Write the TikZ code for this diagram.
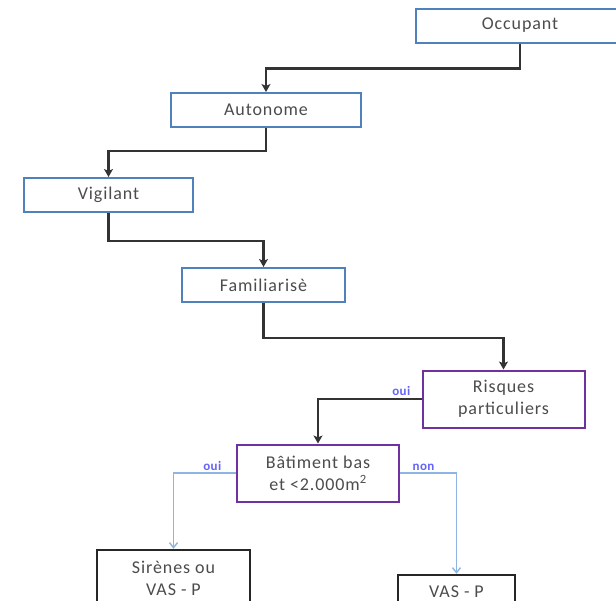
\documentclass[tikz,border=0pt]{standalone}
\usepackage{fontspec}
\setmainfont[LetterSpace=5]{Carlito}
\newfontfamily\replyfont[LetterSpace=3]{Carlito}
\usepackage{xcolor}
\usetikzlibrary{arrows.meta, positioning}

\definecolor{boxblue}{RGB}{79,129,189}
\definecolor{boxpurple}{RGB}{112,48,160}
\definecolor{labelblue}{RGB}{100,100,250}
\definecolor{lightarrow}{RGB}{141,180,226}

\begin{document}
\begin{tikzpicture}[x=1pt, y=-1pt, every node/.style={font=\fontsize{18}{22}\selectfont, text=black!70}]
    \tikzstyle{stage} = [rectangle, draw=boxblue, line width=2pt, fill=white, inner sep=0pt, minimum height=34pt, align=center]
    \tikzstyle{question} = [rectangle, draw=boxpurple, line width=2pt, fill=white, inner sep=0pt, minimum width=162pt, minimum height=57pt, align=center]
    \tikzstyle{answer} = [rectangle, draw=black!85, line width=2.5pt, fill=white, inner sep=0pt, align=center]
    \tikzstyle{flow} = [-{Stealth[length=8pt, width=9pt, inset=2pt]}, line width=2.5pt, black!80]
    \tikzstyle{choice} = [-{Straight Barb[length=5pt, width=8pt]}, line width=1.4pt, lightarrow]
    \tikzstyle{reply} = [font=\replyfont\bfseries\fontsize{13}{15}\selectfont, text=labelblue, inner sep=2pt]

    \useasboundingbox[fill=white] (0,0) rectangle (616,600);

    \node[stage, minimum width=208pt] (occupant) at (520,25.5) {Occupant};
    \node[stage, minimum width=190pt] (autonome) at (266,110) {Autonome};
    \node[stage, minimum width=169pt] (vigilant) at (108.5,195) {Vigilant};
    \node[stage, minimum width=163pt] (familiarise) at (263.5,285) {Familiaris\`e};
    \node[question] (risques) at (503.5,399) {Risques\\particuliers};
    \node[question] (batiment) at (318,473) {B\^atiment bas\\et <2.000m\textsuperscript{2}};
    \node[answer, minimum width=153pt, minimum height=57pt] (sirenes) at (173.5,578.5) {Sir\`enes ou\\VAS - P};
    \node[answer, minimum width=117pt, minimum height=34pt] (vasp) at (456.5,592) {VAS - P};

    \draw[flow] (occupant.south) -- ++(0,25) -| (autonome.north);
    \draw[flow] (autonome.south) -- ++(0,23) -| (vigilant.north);
    \draw[flow] (vigilant.south) -- ++(0,28) -| (familiarise.north);
    \draw[flow] (familiarise.south) -- ++(0,35) -| (risques.north);
    \draw[flow] (risques.west) -| node[reply, pos=0, above left, xshift=-8pt] {oui} (batiment.north);
    \draw[choice] (batiment.west) -| node[reply, pos=0, above left, xshift=-12pt] {oui} (sirenes.north);
    \draw[choice] (batiment.east) -| node[reply, pos=0, above right, xshift=10pt] {non} (vasp.north);
\end{tikzpicture}
\end{document}
